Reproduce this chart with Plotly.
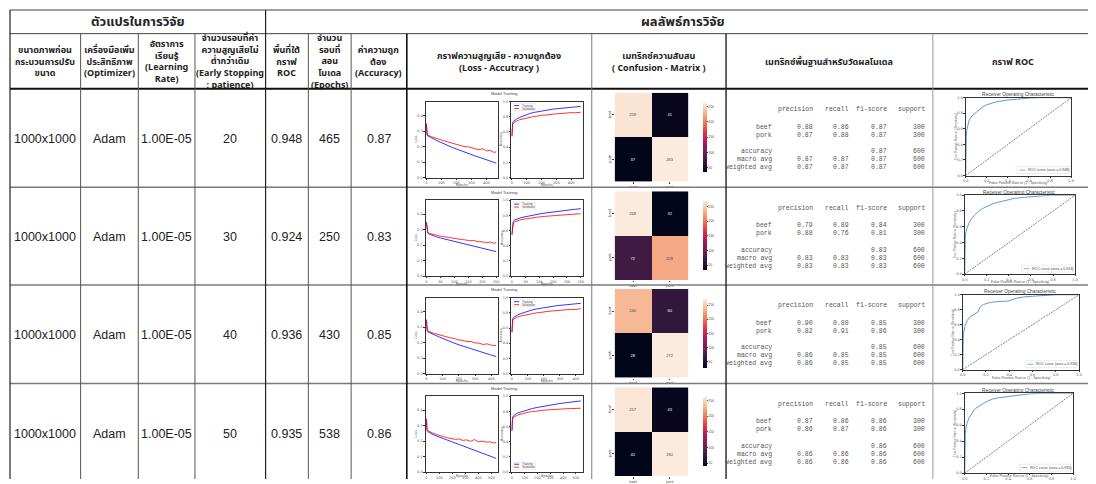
import plotly.graph_objects as go

# The page places the figure 8px in from the top-left corner, so the figure is
# sized to fill the rest of the 1096x484 window and pixel positions are offset.
OFF = 8
W, H = 1096 - OFF, 484 - OFF
def X(p): return (p - OFF) / W
def Y(p): return 1 - (p - OFF) / H

# ---------------- table data ----------------
group_headers = ["ตัวแปรในการวิจัย", "ผลลัพธ์การวิจัย"]
column_headers = [
    "ขนาดภาพก่อน<br>กระบวนการปรับ<br>ขนาด",
    "เครื่องมือเพิ่ม<br>ประสิทธิภาพ<br>(Optimizer)",
    "อัตราการ<br>เรียนรู้<br>(Learning<br>Rate)",
    "จำนวนรอบที่ค่า<br>ความสูญเสียไม่<br>ต่ำกว่าเดิม<br>(Early Stopping<br>: patience)",
    "พื้นที่ใต้<br>กราฟ<br>ROC",
    "จำนวน<br>รอบที่<br>สอน<br>โมเดล<br>(Epochs)",
    "ค่าความถูก<br>ต้อง<br>(Accuracy)",
    "กราฟความสูญเสีย - ความถูกต้อง<br>(Loss - Accutracy )",
    "เมทริกซ์ความสับสน<br>( Confusion - Matrix )",
    "เมทริกซ์พื้นฐานสำหรับวัดผลโมเดล",
    "กราฟ ROC",
]
image_size = ["1000x1000", "1000x1000", "1000x1000", "1000x1000"]
optimizer = ["Adam", "Adam", "Adam", "Adam"]
learning_rate = ["1.00E-05", "1.00E-05", "1.00E-05", "1.00E-05"]
patience = [20, 30, 40, 50]
roc_area = [0.948, 0.924, 0.936, 0.935]
epochs_trained = [465, 250, 430, 538]
accuracy = [0.87, 0.83, 0.85, 0.86]

# ---------------- training curves ----------------
epoch_grid = [
    [0, 2, 5, 10, 20, 35, 50, 75, 100, 125, 150, 175, 200, 225, 250, 275, 300, 325, 350, 375, 400, 425, 450, 465],
    [0, 2, 5, 10, 20, 30, 40, 50, 65, 80, 95, 110, 125, 140, 155, 170, 185, 200, 215, 230, 240, 250],
    [0, 2, 5, 10, 20, 35, 50, 75, 100, 125, 150, 175, 200, 225, 250, 275, 300, 325, 350, 375, 400, 430],
    [0, 2, 5, 10, 20, 35, 50, 75, 100, 130, 160, 190, 220, 250, 280, 310, 340, 370, 400, 430, 460, 490, 515, 538],
]
train_loss = [
    [0.345, 0.290, 0.275, 0.268, 0.262, 0.255, 0.249, 0.236, 0.224, 0.213, 0.203, 0.193, 0.184, 0.174, 0.166, 0.157, 0.148, 0.139, 0.131, 0.124, 0.114, 0.106, 0.098, 0.092],
    [0.345, 0.292, 0.278, 0.270, 0.262, 0.256, 0.251, 0.246, 0.239, 0.232, 0.225, 0.218, 0.211, 0.204, 0.197, 0.191, 0.184, 0.178, 0.172, 0.166, 0.162, 0.158],
    [0.345, 0.290, 0.276, 0.269, 0.263, 0.256, 0.250, 0.238, 0.226, 0.215, 0.205, 0.195, 0.186, 0.177, 0.168, 0.160, 0.151, 0.143, 0.135, 0.127, 0.119, 0.110],
    [0.340, 0.285, 0.268, 0.262, 0.256, 0.249, 0.243, 0.234, 0.226, 0.215, 0.205, 0.195, 0.186, 0.176, 0.166, 0.157, 0.148, 0.139, 0.131, 0.122, 0.113, 0.104, 0.095, 0.088],
]
val_loss = [
    [0.350, 0.292, 0.280, 0.274, 0.268, 0.263, 0.258, 0.249, 0.241, 0.235, 0.228, 0.221, 0.213, 0.210, 0.200, 0.199, 0.191, 0.188, 0.179, 0.186, 0.172, 0.176, 0.162, 0.166],
    [0.350, 0.295, 0.282, 0.276, 0.270, 0.266, 0.262, 0.258, 0.253, 0.249, 0.243, 0.241, 0.236, 0.233, 0.228, 0.229, 0.222, 0.221, 0.216, 0.219, 0.212, 0.214],
    [0.350, 0.293, 0.281, 0.275, 0.269, 0.264, 0.259, 0.251, 0.243, 0.238, 0.230, 0.226, 0.217, 0.214, 0.206, 0.207, 0.198, 0.196, 0.188, 0.192, 0.183, 0.180],
    [0.345, 0.290, 0.274, 0.268, 0.263, 0.257, 0.252, 0.244, 0.236, 0.229, 0.222, 0.216, 0.212, 0.214, 0.205, 0.208, 0.199, 0.210, 0.196, 0.200, 0.193, 0.196, 0.189, 0.190],
]
train_acc = [
    [0.550, 0.680, 0.720, 0.740, 0.758, 0.775, 0.790, 0.812, 0.830, 0.846, 0.858, 0.868, 0.877, 0.885, 0.893, 0.900, 0.906, 0.912, 0.917, 0.922, 0.927, 0.931, 0.935, 0.937],
    [0.550, 0.680, 0.720, 0.738, 0.755, 0.766, 0.775, 0.783, 0.795, 0.806, 0.816, 0.825, 0.833, 0.841, 0.848, 0.855, 0.862, 0.868, 0.874, 0.880, 0.884, 0.887],
    [0.550, 0.680, 0.720, 0.739, 0.756, 0.772, 0.786, 0.806, 0.823, 0.838, 0.850, 0.860, 0.869, 0.878, 0.886, 0.893, 0.899, 0.905, 0.911, 0.916, 0.921, 0.926],
    [0.550, 0.680, 0.720, 0.738, 0.755, 0.770, 0.782, 0.797, 0.810, 0.825, 0.838, 0.850, 0.860, 0.870, 0.879, 0.888, 0.896, 0.903, 0.910, 0.917, 0.923, 0.929, 0.934, 0.938],
]
val_acc = [
    [0.540, 0.665, 0.700, 0.718, 0.733, 0.748, 0.760, 0.773, 0.786, 0.793, 0.805, 0.809, 0.821, 0.822, 0.831, 0.833, 0.840, 0.842, 0.848, 0.846, 0.855, 0.853, 0.862, 0.860],
    [0.540, 0.665, 0.698, 0.715, 0.730, 0.740, 0.748, 0.755, 0.763, 0.771, 0.777, 0.784, 0.789, 0.794, 0.800, 0.803, 0.808, 0.810, 0.815, 0.816, 0.820, 0.822],
    [0.540, 0.665, 0.700, 0.717, 0.731, 0.745, 0.756, 0.769, 0.780, 0.789, 0.799, 0.805, 0.814, 0.817, 0.826, 0.828, 0.836, 0.837, 0.844, 0.842, 0.850, 0.853],
    [0.540, 0.665, 0.700, 0.716, 0.730, 0.744, 0.755, 0.768, 0.778, 0.790, 0.797, 0.806, 0.811, 0.816, 0.820, 0.825, 0.826, 0.831, 0.832, 0.836, 0.837, 0.840, 0.840, 0.842],
]
loss_ticks = [0.0, 0.1, 0.2, 0.3, 0.4]
acc_ticks = [0.0, 0.2, 0.4, 0.6, 0.8, 1.0]
epoch_ticks = [[0, 100, 200, 300, 400], [0, 50, 100, 150, 200, 250], [0, 100, 200, 300, 400], [0, 100, 200, 300, 400, 500]]

# ---------------- confusion matrices ----------------
classes = ["beef", "pork"]
confusion = [
    [[259, 41], [37, 263]],
    [[268, 32], [72, 228]],
    [[240, 60], [28, 272]],
    [[257, 43], [40, 260]],
]

# ---------------- classification reports ----------------
report_labels = ["beef", "pork", "accuracy", "macro avg", "weighted avg"]
report_headers = ["precision", "recall", "f1-score", "support"]
rep_precision = [[0.88, 0.87], [0.79, 0.88], [0.90, 0.82], [0.87, 0.86]]
rep_recall = [[0.86, 0.88], [0.89, 0.76], [0.80, 0.91], [0.86, 0.87]]
rep_f1 = [[0.87, 0.87], [0.84, 0.81], [0.85, 0.86], [0.86, 0.86]]
rep_support = [300, 300]
rep_accuracy = [0.87, 0.83, 0.85, 0.86]
rep_macro = [[0.87, 0.87, 0.87], [0.83, 0.83, 0.83], [0.86, 0.85, 0.85], [0.86, 0.86, 0.86]]
rep_weighted = [[0.87, 0.87, 0.87], [0.83, 0.83, 0.83], [0.86, 0.85, 0.85], [0.86, 0.86, 0.86]]
rep_total = 600

# ---------------- ROC curves ----------------
roc_fpr = [
    [0.0, 0.0, 0.005, 0.01, 0.02, 0.03, 0.05, 0.07, 0.10, 0.13, 0.16, 0.20, 0.25, 0.30, 0.40, 0.50, 0.60, 0.68, 0.80, 1.0],
    [0.0, 0.0, 0.005, 0.01, 0.02, 0.04, 0.06, 0.09, 0.12, 0.16, 0.20, 0.25, 0.30, 0.38, 0.45, 0.55, 0.65, 0.78, 0.90, 1.0],
    [0.0, 0.0, 0.005, 0.02, 0.04, 0.06, 0.09, 0.11, 0.13, 0.15, 0.18, 0.22, 0.27, 0.33, 0.39, 0.45, 0.52, 0.60, 0.70, 0.80, 1.0],
    [0.0, 0.0, 0.005, 0.01, 0.02, 0.04, 0.06, 0.08, 0.10, 0.13, 0.17, 0.21, 0.26, 0.32, 0.40, 0.48, 0.58, 0.70, 0.82, 1.0],
]
roc_tpr = [
    [0.0, 0.30, 0.50, 0.58, 0.66, 0.70, 0.75, 0.78, 0.81, 0.85, 0.88, 0.91, 0.935, 0.95, 0.97, 0.985, 0.995, 1.0, 1.0, 1.0],
    [0.0, 0.25, 0.45, 0.52, 0.58, 0.65, 0.70, 0.75, 0.79, 0.83, 0.86, 0.89, 0.91, 0.94, 0.96, 0.975, 0.99, 1.0, 1.0, 1.0],
    [0.0, 0.30, 0.46, 0.59, 0.66, 0.70, 0.73, 0.75, 0.77, 0.84, 0.87, 0.89, 0.905, 0.91, 0.915, 0.95, 0.97, 0.98, 0.99, 1.0, 1.0],
    [0.0, 0.28, 0.48, 0.55, 0.62, 0.69, 0.74, 0.78, 0.81, 0.84, 0.87, 0.90, 0.93, 0.945, 0.96, 0.975, 0.99, 1.0, 1.0, 1.0],
]
chance_line = [0.0, 1.0]
roc_ticks = [0.0, 0.2, 0.4, 0.6, 0.8, 1.0]

# ---------------- layout geometry (window pixels) ----------------
col_x = [7, 78, 136, 193, 264, 307, 350, 406, 592, 727, 935, 1096]
row_top = [88, 188, 287, 387]
row_h = [100, 99, 100, 100]
roc_box = [(968, 1074, 97, 176), (967, 1078, 196, 276), (965, 1082, 297, 373), (967, 1076, 397, 478)]

THAI = "Tahoma, 'Noto Sans Thai', 'Leelawadee UI', 'Liberation Sans', Arial, sans-serif"
SANS = "'Liberation Sans', Arial, sans-serif"
MONO = "'Liberation Mono', 'DejaVu Sans Mono', monospace"
rocket = [[0.0, "#03051a"], [1/7, "#35193e"], [2/7, "#701f57"], [3/7, "#ad1759"],
          [4/7, "#e13342"], [5/7, "#f37651"], [6/7, "#f6b48f"], [1.0, "#faebdd"]]

layout = dict(width=W, height=H, margin=dict(l=0, r=0, t=0, b=0),
              paper_bgcolor="white", plot_bgcolor="white", showlegend=False,
              font=dict(family=SANS), shapes=[], annotations=[])
traces = []
SH = layout["shapes"]
AN = layout["annotations"]

def line(x0, y0, x1, y1, color, width):
    SH.append(dict(type="line", xref="paper", yref="paper", x0=X(x0), y0=Y(y0), x1=X(x1), y1=Y(y1),
                   line=dict(color=color, width=width), layer="above"))

def rect(x0, y0, x1, y1, color, width, fill="white"):
    SH.append(dict(type="rect", xref="paper", yref="paper", x0=X(x0), y0=Y(y0), x1=X(x1), y1=Y(y1),
                   line=dict(color=color, width=width), fillcolor=fill, layer="above"))

def ann(x, y, text, size=9, color="#222", family=SANS, xanchor="center", yanchor="middle", angle=0):
    AN.append(dict(x=X(x), y=Y(y), xref="paper", yref="paper", text=text, showarrow=False,
                   xanchor=xanchor, yanchor=yanchor, textangle=angle,
                   font=dict(size=size, color=color, family=family)))

axis_count = [0]
def new_axes(x0, x1, y0, y1, xopt, yopt):
    axis_count[0] += 1
    n = axis_count[0]
    s = "" if n == 1 else str(n)
    layout["xaxis" + s] = dict(domain=[X(x0), X(x1)], anchor="y" + s, **xopt)
    layout["yaxis" + s] = dict(domain=[Y(y1), Y(y0)], anchor="x" + s, **yopt)
    return "x" + s, "y" + s

def mpl_axis(rng, ticks, fmt):
    return dict(range=rng, tickvals=ticks, ticktext=[fmt.format(t) for t in ticks],
                showline=True, mirror=True, linecolor="#333", linewidth=0.6,
                ticks="outside", ticklen=1.5, tickwidth=0.5, tickcolor="#333",
                showgrid=False, zeroline=False, fixedrange=True,
                tickfont=dict(size=3.5, color="#555", family="DejaVu Sans"))

# ---------------- table grid ----------------
line(7, 8, 1096, 8, "#444", 1)
line(7, 32, 1096, 32, "#444", 1)
line(7, 88, 1096, 88, "#111", 2)
for t in row_top[1:]:
    line(7, t, 1096, t, "#7a7a7a", 1.5)
v_style = {7: ("#222", 1.2, 8), 78: ("#555", 1, 32), 136: ("#555", 1, 32), 193: ("#555", 1, 32),
           264: ("#222", 1.2, 8), 307: ("#555", 1, 32), 350: ("#555", 1, 32), 406: ("#111", 1.6, 32),
           592: ("#777", 1, 32), 727: ("#222", 1.4, 32), 935: ("#999", 1, 32)}
for cx, (c, w, y0) in v_style.items():
    line(cx, y0, cx, 484, c, w)

# headers
ann((col_x[0] + col_x[4]) / 2, 20, "<b>" + group_headers[0] + "</b>", size=13, family=THAI)
ann((col_x[4] + 1104) / 2, 20, "<b>" + group_headers[1] + "</b>", size=13, family=THAI)
for i, txt in enumerate(column_headers):
    ann((col_x[i] + col_x[i + 1]) / 2, 60.5, "<b>" + txt + "</b>", size=9, family=THAI)

# data cells
for r in range(4):
    cy = row_top[r] + row_h[r] / 2 + 1
    vals = [image_size[r], optimizer[r], learning_rate[r], str(patience[r]),
            "{:.3f}".format(roc_area[r]), str(epochs_trained[r]), "{:.2f}".format(accuracy[r])]
    for i, v in enumerate(vals):
        ann((col_x[i] + col_x[i + 1]) / 2, cy, v, size=12.5, color="#222")

# ---------------- per-row charts ----------------
for r in range(4):
    t = row_top[r]
    ep = epoch_grid[r]
    emax = epochs_trained[r]
    xr = [-emax * 0.01, emax * 1.03]
    lab_y = min(t + 98, 481)

    # loss
    xa, ya = new_axes(425, 498, t + 13, t + 90, mpl_axis(xr, epoch_ticks[r], "{:d}"),
                      mpl_axis([0, 0.49], loss_ticks, "{:.1f}"))
    traces.append(go.Scatter(x=ep, y=train_loss[r], xaxis=xa, yaxis=ya, mode="lines",
                             line=dict(color="#0000ff", width=0.8)))
    traces.append(go.Scatter(x=ep, y=val_loss[r], xaxis=xa, yaxis=ya, mode="lines",
                             line=dict(color="#ff0000", width=0.8)))
    ann(415, t + 51, "Loss", size=3.5, color="#555", angle=-90)
    ann(461, lab_y, "Epochs", size=3.5, color="#555")
    # accuracy
    xa, ya = new_axes(511, 583, t + 13, t + 90, mpl_axis(xr, epoch_ticks[r], "{:d}"),
                      mpl_axis([0, 1.0], acc_ticks, "{:.1f}"))
    traces.append(go.Scatter(x=ep, y=train_acc[r], xaxis=xa, yaxis=ya, mode="lines",
                             line=dict(color="#0000ff", width=0.8)))
    traces.append(go.Scatter(x=ep, y=val_acc[r], xaxis=xa, yaxis=ya, mode="lines",
                             line=dict(color="#ff0000", width=0.8)))
    ann(501, t + 51, "Accuracy", size=3.5, color="#555", angle=-90)
    ann(547, lab_y, "Epochs", size=3.5, color="#555")
    ann(504, t + 5, "Model Training", size=4, color="#444")
    # legend of training chart
    ly = t + 15 if r < 3 else t + 80
    rect(513, ly, 535, ly + 7, "#ccc", 0.4)
    line(514, ly + 2, 519, ly + 2, "#0000ff", 0.8)
    line(514, ly + 5, 519, ly + 5, "#ff0000", 0.8)
    ann(520, ly + 2, "Training", size=3, color="#444", xanchor="left")
    ann(520, ly + 5, "Validation", size=3, color="#444", xanchor="left")

    # confusion matrix
    cm = confusion[r]
    flat = [v for row in cm for v in row]
    hx = dict(showline=False, showgrid=False, zeroline=False, fixedrange=True, ticks="outside",
              ticklen=1.5, tickwidth=0.5, tickcolor="#444",
              tickfont=dict(size=3.5, color="#555", family="DejaVu Sans"))
    xa, ya = new_axes(615, 689, t + 4, t + 94, dict(hx), dict(hx, autorange="reversed", tickangle=-90))
    traces.append(go.Heatmap(z=cm, x=classes, y=classes, xaxis=xa, yaxis=ya,
                             colorscale=rocket, zmin=min(flat), zmax=max(flat),
                             texttemplate="%{z}", textfont=dict(size=4),
                             colorbar=dict(x=X(694), xanchor="left", y=Y(t + 4), yanchor="top",
                                           len=90 / H, lenmode="fraction", thickness=4,
                                           thicknessmode="pixels", outlinewidth=0, dtick=50,
                                           ticks="outside", ticklen=1, tickwidth=0.5,
                                           tickfont=dict(size=3.5, color="#555"))))

    # classification report
    cols_r = [816, 853, 891, 929]
    lab_r = 775
    offs = [21, 39, 47, 64, 72, 80]
    rc = "#555"
    for j, h in enumerate(report_headers):
        ann(cols_r[j], t + offs[0], h, size=6.5, color=rc, family=MONO, xanchor="right")
    for k in range(2):
        ann(lab_r, t + offs[1 + k], report_labels[k], size=6.5, color=rc, family=MONO, xanchor="right")
        vals = ["{:.2f}".format(rep_precision[r][k]), "{:.2f}".format(rep_recall[r][k]),
                "{:.2f}".format(rep_f1[r][k]), str(rep_support[k])]
        for j, v in enumerate(vals):
            ann(cols_r[j], t + offs[1 + k], v, size=6.5, color=rc, family=MONO, xanchor="right")
    ann(lab_r, t + offs[3], report_labels[2], size=6.5, color=rc, family=MONO, xanchor="right")
    ann(cols_r[2], t + offs[3], "{:.2f}".format(rep_accuracy[r]), size=6.5, color=rc, family=MONO, xanchor="right")
    ann(cols_r[3], t + offs[3], str(rep_total), size=6.5, color=rc, family=MONO, xanchor="right")
    for k, avg in enumerate([rep_macro[r], rep_weighted[r]]):
        yy = t + offs[4 + k]
        ann(lab_r, yy, report_labels[3 + k], size=6.5, color=rc, family=MONO, xanchor="right")
        for j in range(3):
            ann(cols_r[j], yy, "{:.2f}".format(avg[j]), size=6.5, color=rc, family=MONO, xanchor="right")
        ann(cols_r[3], yy, str(rep_total), size=6.5, color=rc, family=MONO, xanchor="right")

    # ROC
    x0, x1, y0, y1 = roc_box[r]
    xa, ya = new_axes(x0, x1, y0, y1, mpl_axis([0, 1], roc_ticks, "{:.1f}"),
                      mpl_axis([0, 1], roc_ticks, "{:.1f}"))
    traces.append(go.Scatter(x=chance_line, y=chance_line, xaxis=xa, yaxis=ya, mode="lines",
                             line=dict(color="#333", width=0.6, dash="2px,1px")))
    traces.append(go.Scatter(x=roc_fpr[r], y=roc_tpr[r], xaxis=xa, yaxis=ya, mode="lines",
                             line=dict(color="#5b9bd5", width=1)))
    ann((x0 + x1) / 2, y0 - 3, "Receiver Operating Characteristic", size=4.8, color="#444")
    ann(x0 - 10, (y0 + y1) / 2, "True Positive Rate or (Sensitivity)", size=3.2, color="#555", angle=-90)
    ann((x0 + x1) / 2, min(y1 + 8, 481), "False Positive Rate or (1 - Specificity)", size=3.5, color="#555")
    rect(x1 - 54, y1 - 9, x1 - 2, y1 - 2, "#ccc", 0.4)
    line(x1 - 52, y1 - 5.5, x1 - 46, y1 - 5.5, "#5b9bd5", 0.8)
    ann(x1 - 45, y1 - 5.5, "ROC curve (area = {:.3f})".format(roc_area[r]), size=3.6, color="#444", xanchor="left")

fig = go.Figure(data=traces, layout=layout)
fig.write_html("out.html")
